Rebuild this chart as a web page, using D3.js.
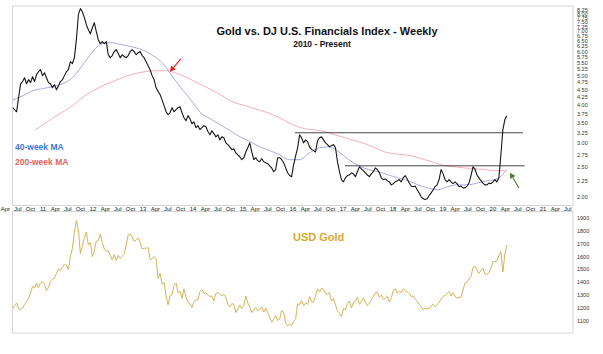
<!DOCTYPE html>
<html>
<head>
<meta charset="utf-8">
<script src="https://cdn.jsdelivr.net/npm/d3@7"></script>
<style>
  body { margin: 0; background: #fff; }
  svg text { font-family: "Liberation Sans", Arial, sans-serif; }
</style>
</head>
<body>
<div id="chart"></div>
<script>
// Gold / DJ US Financials ratio, roughly every two weeks, May 2010 - Apr 2020
const ratio = [
  3.93,3.87,3.81,4.24,4.71,4.79,4.93,4.71,4.86,4.75,4.97,4.79,5.05,5.16,5.24,
  5.01,5.12,4.93,4.75,4.71,4.57,4.68,4.50,4.64,4.79,4.86,5.01,5.16,5.24,5.57,5.49,5.74,6.58,7.95,
  8.32,8.13,7.77,7.37,7.09,6.88,7.20,7.48,6.99,6.58,6.38,6.48,6.38,6.48,5.87,5.74,5.83,6.01,6.10,5.92,
  5.74,5.87,5.79,5.74,5.83,6.01,6.10,6.01,5.87,5.96,6.01,5.83,5.74,5.57,5.40,5.24,5.01,4.86,4.57,4.44,
  4.34,4.17,3.99,3.81,3.73,3.78,3.93,3.81,3.87,3.93,3.96,3.78,3.64,3.56,3.70,3.61,3.48,3.53,3.38,3.43,3.33,
  3.38,3.43,3.40,3.28,3.20,3.30,3.23,3.15,3.20,3.08,
  3.15,3.13,3.01,2.97,2.92,2.86,2.88,2.79,2.75,2.71,
  2.65,2.69,2.81,2.90,3.01,2.81,2.65,2.69,2.63,2.61,
  2.67,2.61,2.59,2.57,2.53,2.49,2.42,2.46,2.69,2.69,
  2.65,2.59,2.49,2.40,2.35,2.33,2.55,2.73,2.90,3.20,
  3.13,3.01,3.08,3.04,2.92,2.86,2.84,2.81,3.06,3.13,
  3.15,3.08,3.01,2.97,2.92,2.95,2.97,2.90,2.61,2.42,
  2.28,2.24,2.31,2.35,2.36,2.40,2.38,2.33,2.42,2.51,
  2.47,2.44,2.40,2.36,2.33,2.38,2.42,2.49,2.46,2.40,
  2.31,2.28,2.29,2.26,2.24,2.19,2.21,2.24,2.26,2.28,
  2.24,2.31,2.35,2.29,2.22,2.17,2.16,2.17,2.11,2.06,
  2.00,1.97,1.96,1.97,2.02,2.06,2.11,2.16,2.19,2.28,
  2.46,2.38,2.28,2.24,2.28,2.24,2.21,2.24,2.21,2.16,
  2.17,2.14,2.14,2.17,2.22,2.35,2.51,2.47,2.36,2.31,
  2.26,2.22,2.19,2.19,2.22,2.21,2.24,2.28,2.24,2.31,
  2.75,3.33,3.59,3.70
];

// USD gold, same dates
const gold = [
  1195,1220,1240,1195,1190,1200,1230,1250,1275,1315,1370,1355,1395,1360,1395,1405,
  1385,1335,1360,1410,1425,1430,1470,1505,1490,1520,1540,1535,1500,1600,1665,1790,1880,1810,1625,1680,1745,1790,1690,1710,1600,
  1645,1720,1725,1775,1710,1660,1640,1645,1610,1575,1615,1570,1610,1585,1605,1620,1690,1770,1775,1755,1715,1730,1745,1710,1660,
  1665,1665,1670,1580,1580,1600,1585,1430,1470,1385,1400,1295,1225,1295,1305,1375,1395,1320,1330,1275,1350,1285,1245,1235,1205,
  1250,1265,1265,1330,1345,1310,1320,1300,1290,1295,1255,1315,1320,1310,1295,1305,1285,1230,1210,1235,1230,1165,1195,1225,1195,
  1220,1295,1240,1210,1165,1190,1205,1180,1190,1210,1170,1200,1165,1130,1090,1115,1140,1105,1115,1180,1170,1085,1060,1075,1065,
  1100,1115,1235,1225,1260,1220,1240,1230,1290,1250,1245,1295,1350,1325,1355,1345,1315,1310,1320,1255,1275,1225,1180,1160,1135,
  1195,1190,1235,1255,1200,1245,1255,1285,1230,1255,1280,1245,1220,1240,1265,1290,1320,1325,1285,1300,1270,1275,1290,1250,1280,
  1335,1350,1315,1330,1320,1350,1335,1325,1315,1290,1295,1270,1255,1230,1215,1185,1200,1195,1195,1220,1230,1210,1225,1245,1270,
  1290,1300,1315,1330,1295,1320,1295,1275,1285,1285,1340,1395,1400,1425,1445,1515,1525,1500,1470,1490,1510,1465,1460,1475,1510,
  1560,1560,1565,1610,1640,1480,1620,1690
];
const seriesStart = "2010-05-24", seriesEnd = "2020-04-12";

// 40-week moving average
const ma40 = [
  4.17,4.30,4.47,4.54,4.61,4.71,4.93,5.40,5.96,6.38,6.43,6.33,6.24,6.10,5.87,5.57,5.05,4.57,4.17,3.78,
  3.61,3.45,3.30,3.15,3.04,2.92,2.84,2.75,2.65,2.65,2.79,2.90,2.92,2.81,2.65,2.53,2.46,2.42,2.36,2.31,
  2.26,2.19,2.14,2.11,2.16,2.19,2.19,2.22,2.26,2.29,2.46
];
const ma40Start = "2010-05-27", ma40End = "2020-04-12";

// 200-week moving average
const ma200 = [
  3.32,3.48,3.67,3.84,4.05,4.30,4.50,4.68,4.82,4.97,5.09,5.16,5.20,5.20,5.12,4.97,4.79,4.61,4.44,4.24,
  4.08,3.99,3.90,3.81,3.70,3.56,3.43,3.35,3.32,3.28,3.20,3.13,3.06,2.99,2.90,2.81,2.77,2.75,2.71,2.65,
  2.59,2.53,2.51,2.49,2.47,2.46,2.44,2.44
];
const ma200Start = "2010-11-03", ma200End = "2020-03-28";

// drawn resistance lines
const levels = [
  { from: "2016-01-15", to: "2020-08-08", value: 3.25 },
  { from: "2017-01-15", to: "2020-08-20", value: 2.53 }
];
// annotation arrows (tail -> head)
const arrows = [
  { tail: ["2013-10-05", 5.70], head: ["2013-07-16", 5.16], color: "#e8241c" },
  { tail: ["2020-07-09", 2.14], head: ["2020-05-05", 2.40], color: "#4d7a2c" }
];

const ratioTicks = [2.00,2.25,2.50,2.75,3.00,3.25,3.50,3.75,4.00,4.25,4.50,4.75,5.00,5.25,5.50,5.75,
  6.00,6.25,6.50,6.75,7.00,7.25,7.50,7.75,8.00,8.25];
const goldTicks = [1100,1200,1300,1400,1500,1600,1700,1800,1900];
const monthNames = { 3: "Apr", 6: "Jul", 9: "Oct" };

const width = 603, height = 354;
const left = 12.5, right = 573;
const top1 = 6, bot1 = 205.5, top2 = 211.5, bot2 = 333;

const svg = d3.select("#chart").append("svg")
  .attr("width", width).attr("height", height);

const x = d3.scaleTime()
  .domain([new Date(2011, 0, 1), new Date(2021, 0, 1)])
  .range([43, 543]);
const y1 = d3.scaleLog().domain([1.873, 8.49]).range([bot1, top1]);
const y2 = d3.scaleLinear().domain([1007, 1950]).range([bot2, top2]);

// spread values evenly between two dates
function spread(values, a, b) {
  const t = d3.scaleLinear().domain([0, values.length - 1]).range([+new Date(a), +new Date(b)]);
  return values.map((v, i) => [new Date(t(i)), v]);
}

const defs = svg.append("defs");
defs.append("clipPath").attr("id", "c1").append("rect")
  .attr("x", left).attr("y", top1).attr("width", right - left).attr("height", bot1 - top1);
defs.append("clipPath").attr("id", "c2").append("rect")
  .attr("x", left).attr("y", top2).attr("width", right - left).attr("height", bot2 - top2);

// frames
svg.append("rect").attr("x", left).attr("y", top1).attr("width", right - left).attr("height", bot1 - top1)
  .attr("fill", "none").attr("stroke", "#d6d6d6").attr("stroke-width", 1);
svg.append("rect").attr("x", left).attr("y", top2).attr("width", right - left).attr("height", bot2 - top2)
  .attr("fill", "none").attr("stroke", "#d6d6d6").attr("stroke-width", 1);

// x labels between the panels
const months = d3.timeMonth.every(3).range(new Date(2010, 3, 1), new Date(2021, 7, 1));
svg.append("g").selectAll("text").data(months).join("text")
  .attr("x", d => x(d)).attr("y", (bot1 + top2) / 2 + 2)
  .attr("text-anchor", "middle")
  .attr("font-size", 6).attr("fill", "#222")
  .text(d => d.getMonth() === 0 ? d3.timeFormat("%y")(d) : monthNames[d.getMonth()]);

// right axes
svg.append("g").selectAll("text").data(ratioTicks).join("text")
  .attr("x", right + 4).attr("y", d => y1(d) + 1.8)
  .attr("font-size", 5.5).attr("fill", "#333")
  .text(d => d.toFixed(2));
svg.append("g").selectAll("text").data(goldTicks).join("text")
  .attr("x", right + 4).attr("y", d => y2(d) + 2)
  .attr("font-size", 5.5).attr("fill", "#333")
  .text(d => d);

// top panel lines
const p1 = svg.append("g").attr("clip-path", "url(#c1)");
const line1 = d3.line().x(d => x(d[0])).y(d => y1(d[1]));
const smooth1 = d3.line().x(d => x(d[0])).y(d => y1(d[1])).curve(d3.curveMonotoneX);

p1.append("path").datum(spread(ma200, ma200Start, ma200End))
  .attr("d", smooth1).attr("fill", "none").attr("stroke", "#f2a6ae").attr("stroke-width", 0.9);
p1.append("path").datum(spread(ma40, ma40Start, ma40End))
  .attr("d", smooth1).attr("fill", "none").attr("stroke", "#9da0e2").attr("stroke-width", 0.9);

levels.forEach(l => {
  p1.append("line")
    .attr("x1", x(new Date(l.from))).attr("x2", x(new Date(l.to)))
    .attr("y1", y1(l.value)).attr("y2", y1(l.value))
    .attr("stroke", "#333").attr("stroke-width", 0.9);
});

p1.append("path").datum(spread(ratio, seriesStart, seriesEnd))
  .attr("d", line1).attr("fill", "none").attr("stroke", "#151515")
  .attr("stroke-width", 1.1).attr("stroke-linejoin", "round");

// arrows
arrows.forEach(a => {
  const tx = x(new Date(a.tail[0])), ty = y1(a.tail[1]);
  const hx = x(new Date(a.head[0])), hy = y1(a.head[1]);
  const ang = Math.atan2(hy - ty, hx - tx);
  const len = 5.5, wid = 3;
  const bx = hx - len * Math.cos(ang), by = hy - len * Math.sin(ang);
  svg.append("line").attr("x1", tx).attr("y1", ty).attr("x2", bx).attr("y2", by)
    .attr("stroke", a.color).attr("stroke-width", 1.1);
  const px = -Math.sin(ang) * wid, py = Math.cos(ang) * wid;
  svg.append("path")
    .attr("d", `M${hx},${hy}L${bx + px},${by + py}L${bx - px},${by - py}Z`)
    .attr("fill", a.color);
});

// titles and legend
svg.append("text").attr("x", 327).attr("y", 35).attr("text-anchor", "middle")
  .attr("font-size", 11).attr("font-weight", "bold").attr("fill", "#111")
  .text("Gold vs. DJ U.S. Financials Index - Weekly");
svg.append("text").attr("x", 322).attr("y", 47).attr("text-anchor", "middle")
  .attr("font-size", 8.5).attr("font-weight", "bold").attr("fill", "#111")
  .text("2010 - Present");
svg.append("text").attr("x", 15).attr("y", 150)
  .attr("font-size", 8.5).attr("font-weight", "bold").attr("fill", "#3f78d6")
  .text("40-week MA");
svg.append("text").attr("x", 15).attr("y", 165)
  .attr("font-size", 8.5).attr("font-weight", "bold").attr("fill", "#e26262")
  .text("200-week MA");

// bottom panel
const p2 = svg.append("g").attr("clip-path", "url(#c2)");
p2.append("path").datum(spread(gold, seriesStart, seriesEnd))
  .attr("d", d3.line().x(d => x(d[0])).y(d => y2(d[1])))
  .attr("fill", "none").attr("stroke", "#d6b25a").attr("stroke-width", 1)
  .attr("stroke-linejoin", "round");

svg.append("text").attr("x", 293).attr("y", 241)
  .attr("font-size", 11).attr("font-weight", "bold").attr("fill", "#d8a933")
  .text("USD Gold");
</script>
</body>
</html>
